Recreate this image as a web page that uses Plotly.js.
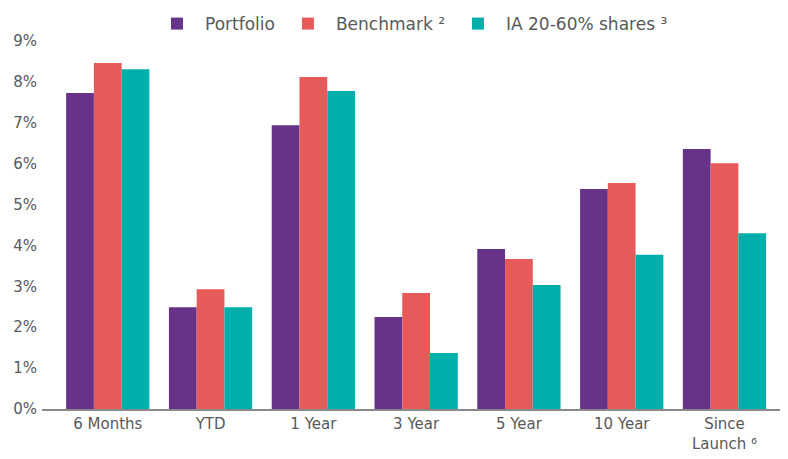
<!DOCTYPE html>
<html>
<head>
<meta charset="utf-8">
<script src="https://cdn.plot.ly/plotly-3.0.1.min.js"></script>
<style>html,body{margin:0;padding:0;background:#fff;}#chart{width:788px;height:459px;}</style>
</head>
<body>
<div id="chart"></div>
<script>
const categories = ["6 Months", "YTD", "1 Year", "3 Year", "5 Year", "10 Year", "Since<br>Launch \u2076"];
const portfolio = [7.73, 2.49, 6.94, 2.25, 3.91, 5.38, 6.36];
const benchmark = [8.46, 2.93, 8.12, 2.84, 3.67, 5.53, 6.01];
const iaShares = [8.31, 2.49, 7.78, 1.37, 3.03, 3.77, 4.30];
const seriesNames = ["Portfolio", "Benchmark \u00b2", "IA 20-60% shares \u00b3"];
const yTickVals = [0,1,2,3,4,5,6,7,8,9];
const yTickText = ["0%","1%","2%","3%","4%","5%","6%","7%","8%","9%"];

const colors = ["#663389", "#E65A5A", "#00AFAA"];
const idx = categories.map((_, i) => i);
const traces = [portfolio, benchmark, iaShares].map((vals, k) => ({
  type: "bar", x: idx, y: vals, name: seriesNames[k],
  marker: {color: colors[k]}, hoverinfo: "none"
}));

const layout = {
  width: 788, height: 459,
  margin: {l: 42, r: 8, t: 41, b: 50, autoexpand: false},
  paper_bgcolor: "#fff", plot_bgcolor: "#fff",
  barmode: "group", bargap: 0.19, bargroupgap: 0,
  font: {family: "'DejaVu Sans', sans-serif", color: "#595959", size: 15},
  showlegend: true,
  legend: {orientation: "h", x: 0.5, xanchor: "center", y: 1.095, yanchor: "top",
    font: {size: 17, color: "#595959"}, itemwidth: 46, traceorder: "normal"},
  xaxis: {tickmode: "array", tickvals: idx, ticktext: categories, range: [-0.64, 6.54],
    showline: true, linecolor: "#898989", linewidth: 2, ticks: "", showgrid: false, zeroline: false,
    tickfont: {size: 15, color: "#595959"}},
  yaxis: {range: [0, 9], tickmode: "array", tickvals: yTickVals, ticktext: yTickText,
    showgrid: false, zeroline: false, showline: false, ticks: "", ticklen: 0, ticklabelstandoff: 4,
    tickfont: {size: 15, color: "#595959"}}
};
Plotly.newPlot("chart", traces, layout, {staticPlot: true});
</script>
</body>
</html>
